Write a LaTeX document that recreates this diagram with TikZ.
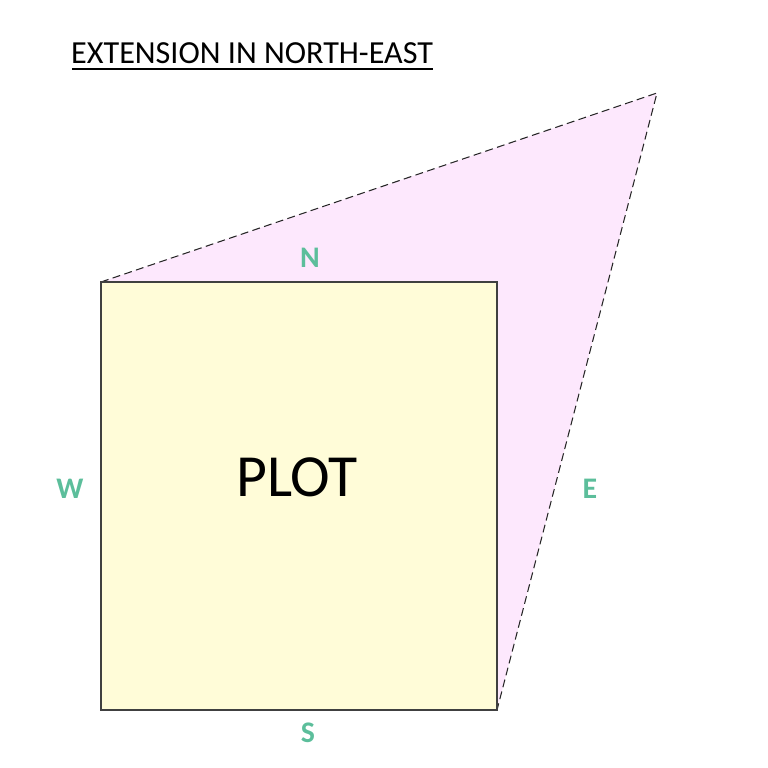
\documentclass[tikz,border=0pt]{standalone}
\usepackage{fontspec}
\setmainfont{Carlito}
\usepackage{tikz}
\usetikzlibrary{positioning,calc}
\usepackage{xcolor}
\definecolor{plotyellow}{RGB}{255,252,216}
\definecolor{extpink}{RGB}{253,232,253}
\definecolor{dirgreen}{RGB}{92,190,155}

\begin{document}
\begin{tikzpicture}[
    dir/.style={font=\fontsize{17}{20}\selectfont\bfseries, text=dirgreen},
    edge/.style={draw=black!75, thick}
]
\useasboundingbox (0,0) rectangle (15.36,15.36);
\coordinate (nw) at (2.02,9.72);
\coordinate (ne) at (9.94,9.72);
\coordinate (se) at (9.94,1.16);
\coordinate (sw) at (2.02,1.16);
\coordinate (apex) at (13.14,13.5);

% extension
\fill[extpink] (nw) -- (apex) -- (se) -- cycle;
\draw[semithick, black!85, dash pattern=on 4.5pt off 2.5pt] (nw) -- (apex) -- (se);

% plot
\filldraw[fill=plotyellow, edge] (sw) rectangle (ne);
\node[font=\fontsize{34}{40}\selectfont] (plot) at (5.94,5.82) {PLOT};

\node[dir] (n) at (6.2,10.2) {N};
\node[dir] (w) at (1.4,5.58) {W};
\node[dir] (e) at (11.8,5.58) {E};
\node[dir] (s) at (6.16,0.7) {S};

\node[anchor=west, font=\fontsize{18.3}{22}\selectfont] (title) at (1.3,14.3) {EXTENSION IN NORTH-EAST};
\coordinate (ul) at (1.44,13.98);
\draw[line width=1.1pt] (ul) -- (ul -| 8.66,0);
\end{tikzpicture}
\end{document}
